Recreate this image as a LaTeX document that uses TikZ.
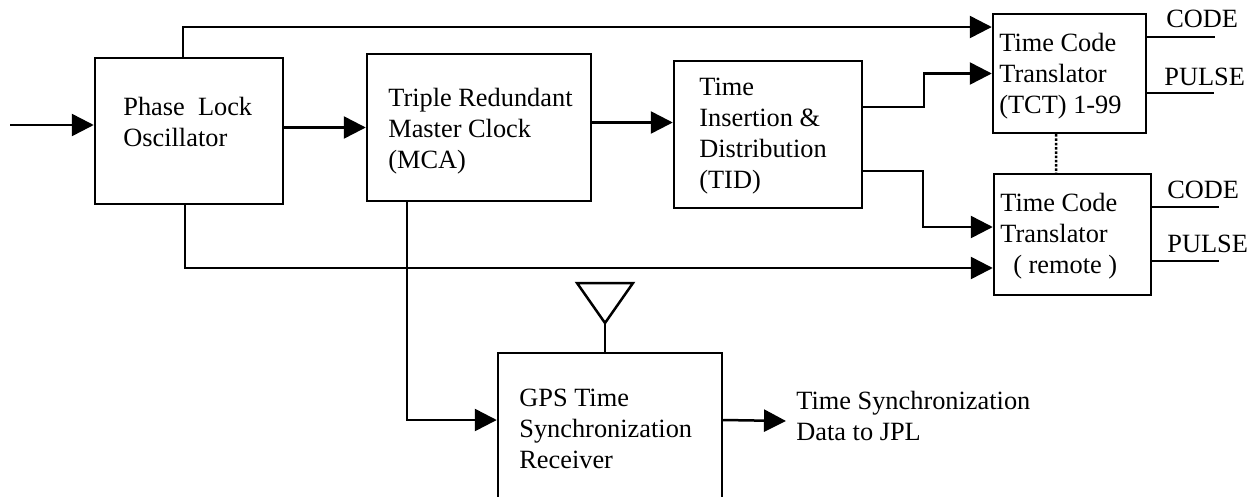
\documentclass[tikz,border=0pt]{standalone}
\usepackage{fontspec}
\setmainfont{Liberation Serif}
\usetikzlibrary{arrows.meta}
\tikzset{
  blockbox/.style={draw=black, line width=0.05cm, inner sep=0pt},
  blocktext/.style={anchor=base west, align=left, inner sep=0pt, font=\fontsize{15}{17.6}\selectfont},
  flowline/.style={draw=black, line width=0.05cm, -{Triangle[length=0.44cm,width=0.44cm]}},
  plainline/.style={draw=black, line width=0.05cm}
}
\begin{document}
\begin{tikzpicture}[x=0.02cm,y=-0.02cm]
  \useasboundingbox (0,0) rectangle (1251,497);
  \clip (0,0) rectangle (1251,497);
  % Blocks
  \node[blockbox, minimum width=3.76cm, minimum height=2.92cm] (pll) at (189,131) {};
  \node[blockbox, minimum width=4.48cm, minimum height=2.94cm] (mca) at (479,127.5) {};
  \node[blockbox, minimum width=3.76cm, minimum height=2.94cm] (tid) at (768,134.5) {};
  \node[blockbox, minimum width=3.06cm, minimum height=2.38cm] (tct) at (1069.5,73.5) {};
  \node[blockbox, minimum width=3.14cm, minimum height=2.42cm] (remote) at (1072.5,234.5) {};
  \node[blockbox, minimum width=4.48cm, minimum height=3.34cm] (gps) at (610,436.5) {};

  % Block texts
  \node[blocktext] (plltext) at (123,146) {Phase\ \ Lock\\Oscillator};
  \node[blocktext] (mcatext) at (388,168) {Triple Redundant\\Master Clock\\(MCA)};
  \node[blocktext] (tidtext) at (699,188) {Time\\Insertion \&\\Distribution\\(TID)};
  \node[blocktext] (tcttext) at (999,113) {Time Code\\Translator\\(TCT) 1-99};
  \node[blocktext] (remotetext) at (1000,273) {Time Code\\Translator\\\hspace{0.26cm}( remote )};
  \node[blocktext] (gpstext) at (519,468) {GPS Time\\Synchronization\\Receiver};
  \node[blocktext] (synctext) at (796,440) {Time Synchronization\\Data to JPL};

  % Output labels
  \node[blocktext] (tctcode) at (1166,28) {CODE};
  \node[blocktext] (tctpulse) at (1164,85) {PULSE};
  \node[blocktext] (remotecode) at (1167,198) {CODE};
  \node[blocktext] (remotepulse) at (1167,252) {PULSE};

  % Free ends
  \coordinate (input) at (10,125);
  \coordinate (syncout) at (786,421);
  \coordinate (antennatip) at (605,323);
  \coordinate (tctcodeend) at (1215,37);
  \coordinate (tctpulseend) at (1214,93);
  \coordinate (remotecodeend) at (1219,207);
  \coordinate (remotepulseend) at (1219,261);

  % Main chain
  \draw[flowline] (input) -- (input -| pll.west);
  \draw[flowline] (mca.west -| pll.east) -- (mca.west);
  \draw[flowline] ([yshift=0.1cm]mca.east) -- ([yshift=0.1cm]mca.east -| tid.west);

  % Feeds to the translators
  \draw[flowline] ([xshift=-0.12cm]pll.north) |- ([yshift=0.93cm]tct.west);
  \draw[flowline] ([yshift=0.55cm]tid.east) -- ++(1.22cm,0) |- (tct.west);
  \draw[flowline] ([yshift=-0.73cm]tid.east) -- ++(1.2cm,0) |- ([yshift=0.15cm]remote.west);
  \draw[flowline] ([xshift=-0.08cm]pll.south) |- ([yshift=-0.67cm]remote.west);

  % GPS receiver
  \draw[flowline] ([xshift=-1.44cm]mca.south) |- ([yshift=0.33cm]gps.west);
  \draw[flowline] ([yshift=0.33cm]gps.east) -- (syncout);
  \draw[plainline, line join=miter] (577,283) -- (633,283) -- (antennatip) -- cycle;
  \draw[plainline] (antennatip) -- (gps.north -| antennatip);

  % Translator outputs
  \draw[plainline] (tctcodeend -| tct.east) -- (tctcodeend);
  \draw[plainline] (tctpulseend -| tct.east) -- (tctpulseend);
  \draw[plainline] (remotecodeend -| remote.east) -- (remotecodeend);
  \draw[plainline] (remotepulseend -| remote.east) -- (remotepulseend);
  \draw[plainline, densely dotted] ([xshift=-0.27cm]tct.south) -- ([xshift=-0.33cm]remote.north);
\end{tikzpicture}
\end{document}
